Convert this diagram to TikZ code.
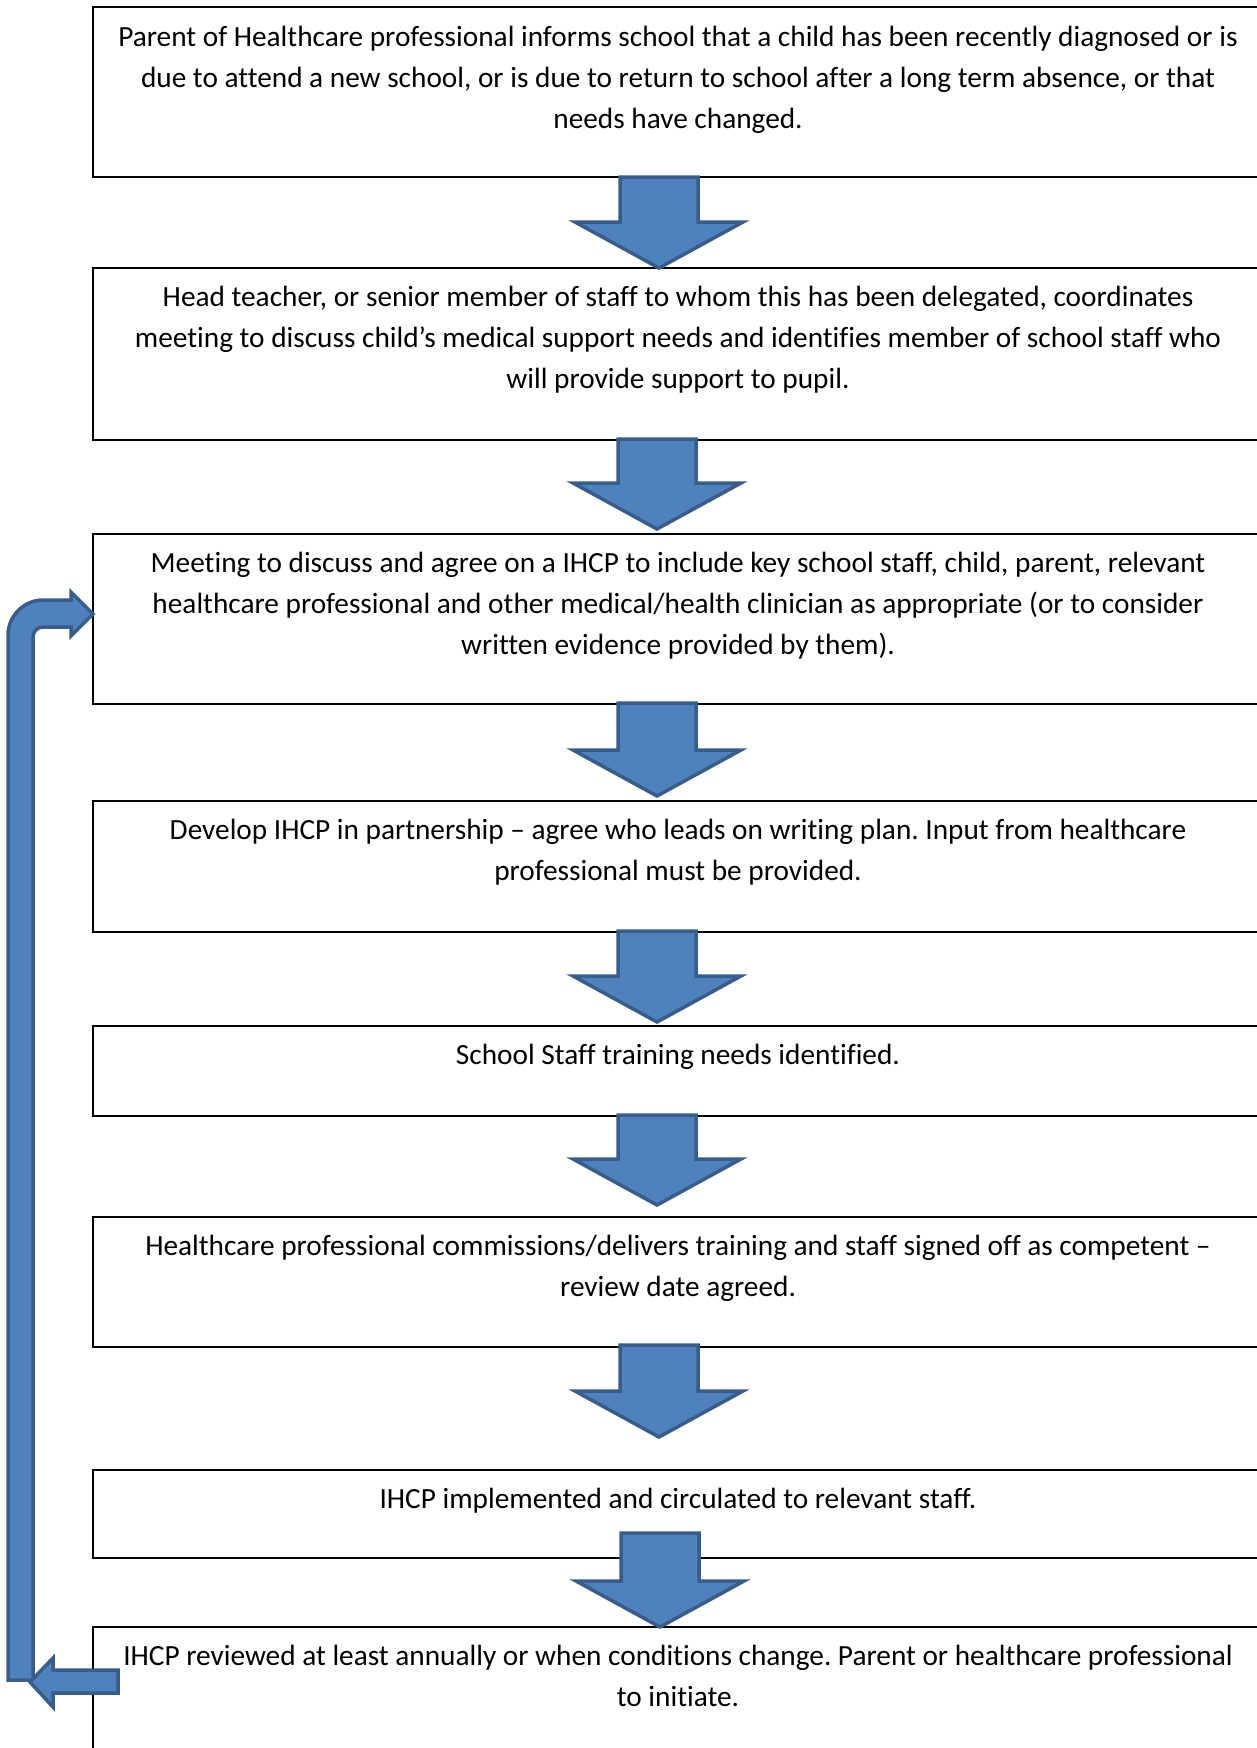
\documentclass[tikz,border=0pt]{standalone}
\usepackage{fontspec}
\setmainfont{Carlito}[Ligatures=NoCommon]
\definecolor{arrfill}{HTML}{4F81BD}
\definecolor{arrline}{HTML}{385D8A}
\newcommand\blockdown[3]{%
  \draw[blk] (#1-39,#2) -- (#1+39,#2) -- (#1+39,#3-46) -- (#1+84,#3-46) -- (#1,#3) -- (#1-84,#3-46) -- (#1-39,#3-46) -- cycle;}
\frenchspacing
\begin{document}
\begin{tikzpicture}[x=1pt,y=-1pt,
  box/.style={draw=black,line width=2pt,rectangle,minimum width=1170pt,anchor=north west,inner sep=0pt,outer sep=0pt},
  txt/.style={anchor=north,align=center,inner sep=0pt,font=\fontsize{29.3}{41}\selectfont},
  blk/.style={fill=arrfill,draw=arrline,line width=3.5pt,line join=miter}]
\useasboundingbox (0,0) rectangle (1256,1748);
\node[box,minimum height=170pt] (b1) at (93,7) {};
\node[box,minimum height=172pt] (b2) at (93,268) {};
\node[box,minimum height=170pt] (b3) at (93,534) {};
\node[box,minimum height=131pt] (b4) at (93,801) {};
\node[box,minimum height=90pt] (b5) at (93,1026) {};
\node[box,minimum height=130pt] (b6) at (93,1217) {};
\node[box,minimum height=88pt] (b7) at (93,1470) {};
\node[box,minimum height=180pt] (b8) at (93,1627) {};
\node[txt] (t1) at (678,17.3) {\strut Parent of Healthcare professional informs school that a child has been recently diagnosed or is\\due to attend a new school, or is due to return to school after a long term absence, or that\\needs have changed.};
\node[txt] (t2) at (678,278) {\strut Head teacher, or senior member of staff to whom this has been delegated, coordinates\\meeting to discuss child’s medical support needs and identifies member of school staff who\\will provide support to pupil.};
\node[txt] (t3) at (678,544) {\strut Meeting to discuss and agree on a IHCP to include key school staff, child, parent, relevant\\healthcare professional and other medical/health clinician as appropriate (or to consider\\written evidence provided by them).};
\node[txt] (t4) at (678,811) {\strut Develop IHCP in partnership – agree who leads on writing plan. Input from healthcare\\professional must be provided.};
\node[txt] (t5) at (678,1036) {\strut School Staff training needs identified.};
\node[txt] (t6) at (678,1227) {\strut Healthcare professional commissions/delivers training and staff signed off as competent –\\review date agreed.};
\node[txt] (t7) at (678,1480) {\strut IHCP implemented and circulated to relevant staff.};
\node[txt] (t8) at (678,1637) {\strut IHCP reviewed at least annually or when conditions change. Parent or healthcare professional\\to initiate.};
\blockdown{659}{177}{268}
\blockdown{657}{439}{529}
\blockdown{657}{703}{796}
\blockdown{657}{931}{1022}
\blockdown{657}{1115}{1205}
\blockdown{659}{1345}{1437}
\blockdown{660}{1533}{1627}
\draw[blk] (8,1680) -- (8,635) .. controls (8,616) and (24,600) .. (43,600) -- (71,600) -- (71,592) -- (93,614) -- (71,636) -- (71,627) -- (43,627) .. controls (37.5,627) and (33,631.5) .. (33,637) -- (33,1680) -- cycle;
\draw[blk] (118,1670) -- (118,1693) -- (53,1693) -- (53,1707) -- (30,1682) -- (53,1658) -- (53,1670) -- cycle;
\end{tikzpicture}
\end{document}
